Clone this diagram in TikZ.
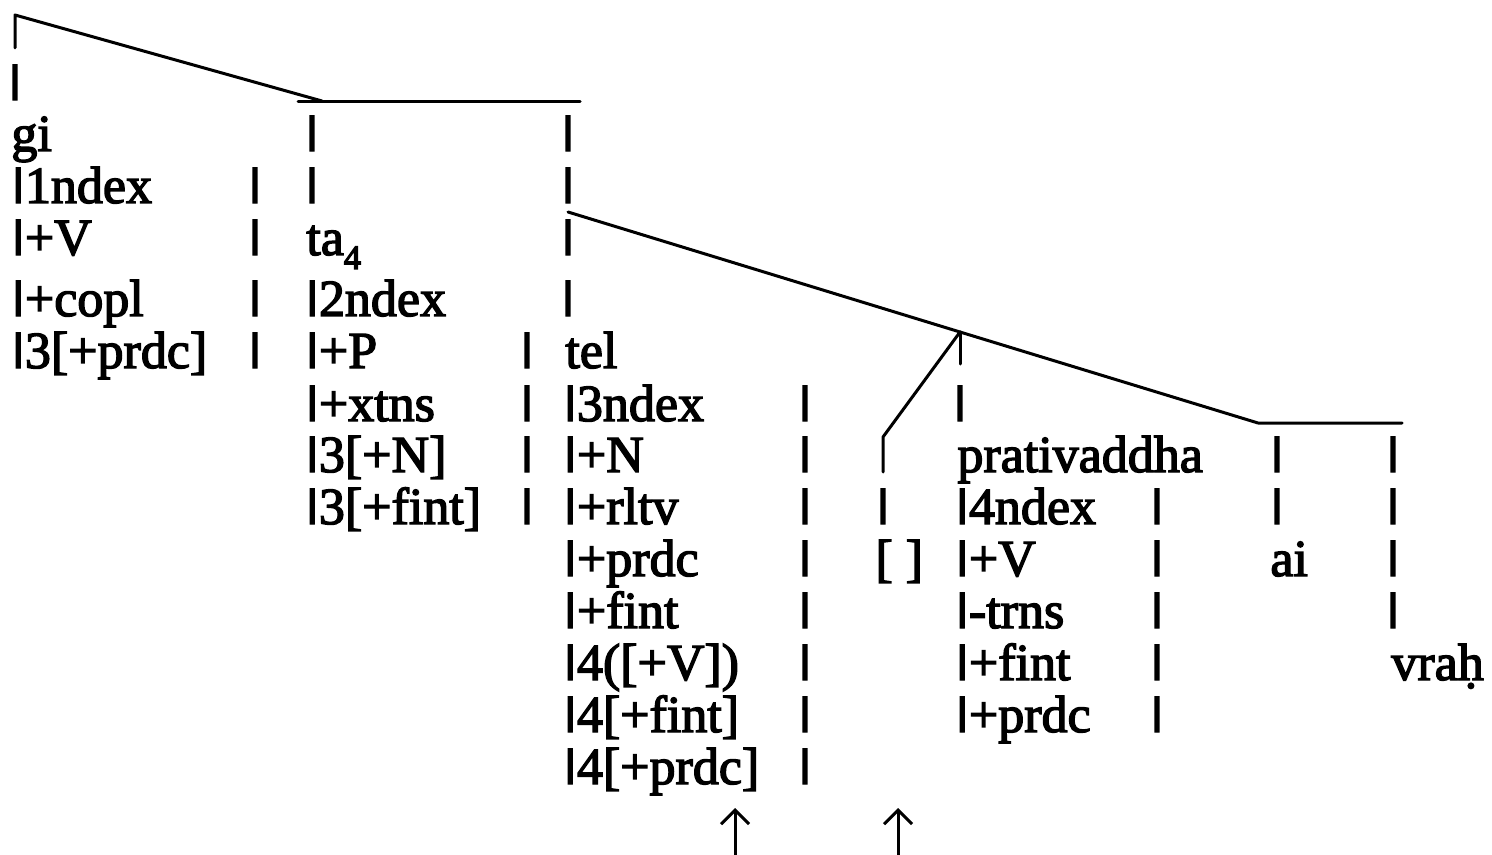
\documentclass[tikz,border=0pt]{standalone}
\usepackage{fontspec}
\setmainfont{Liberation Serif}
\usepackage{graphicx}
\usetikzlibrary{arrows.meta}
% a feature bar, sitting on the baseline
\newcommand{\vb}{\raisebox{.16em}{\scalebox{1.3}[.75]{|}}}
% slightly heavier letters, as in the printed tree
\newcommand{\heavy}{\special{pdf:literal direct 2 Tr 0.7 w}}

\begin{document}
\begin{tikzpicture}[x=0.5pt,y=-0.5pt,>=Stealth,
    lbl/.style={anchor=base west,inner sep=0pt,font=\fontsize{26}{26}\selectfont\heavy},
    bar/.style={anchor=base,inner sep=0pt,font=\fontsize{26}{26}\selectfont\heavy},
    branch/.style={line width=1.5pt,line cap=round,line join=round}]
  \useasboundingbox (0,0) rectangle (1492,855);
  % Upper branch: gi over ta4
  \coordinate (top) at (15,15);
  \coordinate (topfoot) at (15,48);
  \coordinate (topend) at (322,101);
  \coordinate (ha) at (298,102);
  \coordinate (hb) at (580,102);
  \draw[branch] (topfoot) -- (top) -- (topend);
  \draw[branch] (ha) -- (hb);
  \node[bar] (gibar) at (15,100) {\vb};
  \node[lbl] (gi) at (11,151) {gi};
  \node[lbl] (gi1) at (11,203) {\vb 1ndex};
  \node[lbl] (gi2) at (11,255) {\vb +V};
  \node[lbl] (gi3) at (11,316) {\vb +copl};
  \node[lbl] (gi4) at (11,368) {\vb 3[+prdc]};
  \node[bar] (gib1) at (255,203) {\vb};
  \node[bar] (gib2) at (255,255) {\vb};
  \node[bar] (gib3) at (255,316) {\vb};
  \node[bar] (gib4) at (255,368) {\vb};
  % ta4
  \node[bar] (tab0) at (312,151) {\vb};
  \node[bar] (tab1) at (312,203) {\vb};
  \node[lbl] (ta) at (306,255) {ta\raisebox{-7pt}{\fontsize{17}{17}\selectfont 4}};
  \node[lbl] (ta3) at (305,316) {\vb 2ndex};
  \node[lbl] (ta4) at (305,368) {\vb +P};
  \node[lbl] (ta5) at (305,421) {\vb +xtns};
  \node[lbl] (ta6) at (305,472) {\vb 3[+N]};
  \node[lbl] (ta7) at (305,524) {\vb 3[+fint]};
  \node[bar] (tab4) at (527,368) {\vb};
  \node[bar] (tab5) at (527,421) {\vb};
  \node[bar] (tab6) at (527,472) {\vb};
  \node[bar] (tab7) at (527,524) {\vb};
  % tel
  \node[bar] (telb0) at (568,151) {\vb};
  \node[bar] (telb1) at (568,203) {\vb};
  \node[bar] (telb2) at (568,255) {\vb};
  \node[bar] (telb3) at (568,316) {\vb};
  \node[lbl] (tel) at (565,368) {tel};
  \node[lbl] (tel5) at (563,421) {\vb 3ndex};
  \node[lbl] (tel6) at (563,472) {\vb +N};
  \node[lbl] (tel7) at (563,524) {\vb +rltv};
  \node[lbl] (tel8) at (563,576) {\vb +prdc};
  \node[lbl] (tel9) at (563,628) {\vb +fint};
  \node[lbl] (tel10) at (563,680) {\vb 4([+V])};
  \node[lbl] (tel11) at (563,732) {\vb 4[+fint]};
  \node[lbl] (tel12) at (563,784) {\vb 4[+prdc]};
  \node[bar] (telb5) at (805,421) {\vb};
  \node[bar] (telb6) at (805,472) {\vb};
  \node[bar] (telb7) at (805,524) {\vb};
  \node[bar] (telb8) at (805,576) {\vb};
  \node[bar] (telb9) at (805,628) {\vb};
  \node[bar] (telb10) at (805,680) {\vb};
  \node[bar] (telb11) at (805,732) {\vb};
  \node[bar] (telb12) at (805,784) {\vb};
  % Lower branch: tel over the relative clause
  \coordinate (da) at (568,212);
  \coordinate (split) at (960,332);
  \coordinate (db) at (1258,423);
  \coordinate (hc) at (1402,423);
  \coordinate (gapbend) at (883,437);
  \coordinate (gapfoot) at (883,472);
  \coordinate (splitfoot) at (960,364);
  \draw[branch] (da) -- (split) -- (db) -- (hc);
  \draw[branch] (split) -- (gapbend) -- (gapfoot);
  \draw[branch] (split) -- (splitfoot);
  % empty slot
  \node[bar] (gapb7) at (883,524) {\vb};
  \node[lbl] (gap) at (875,576) {[ ]};
  % prativaddha
  \node[bar] (prb5) at (960,421) {\vb};
  \node[lbl] (pr) at (957,472) {prativaddha};
  \node[lbl] (pr7) at (955,524) {\vb 4ndex};
  \node[lbl] (pr8) at (955,576) {\vb +V};
  \node[lbl] (pr9) at (955,628) {\vb -trns};
  \node[lbl] (pr10) at (955,680) {\vb +fint};
  \node[lbl] (pr11) at (955,732) {\vb +prdc};
  \node[bar] (prb7) at (1157,524) {\vb};
  \node[bar] (prb8) at (1157,576) {\vb};
  \node[bar] (prb9) at (1157,628) {\vb};
  \node[bar] (prb10) at (1157,680) {\vb};
  \node[bar] (prb11) at (1157,732) {\vb};
  % ai
  \node[bar] (aib6) at (1277,472) {\vb};
  \node[bar] (aib7) at (1277,524) {\vb};
  \node[lbl] (ai) at (1270,576) {ai};
  % vrah
  \node[bar] (vrb6) at (1393,472) {\vb};
  \node[bar] (vrb7) at (1393,524) {\vb};
  \node[bar] (vrb8) at (1393,576) {\vb};
  \node[bar] (vrb9) at (1393,628) {\vb};
  \node[lbl] (vr) at (1391,680) {vraḥ};
  % pointers
  \coordinate (pa) at (735,857);
  \coordinate (pa') at (735,808);
  \coordinate (pb) at (898,857);
  \coordinate (pb') at (898,808);
  \draw[line width=1.5pt,-{Straight Barb[length=7pt,width=14pt]}] (pa) -- (pa');
  \draw[line width=1.5pt,-{Straight Barb[length=7pt,width=14pt]}] (pb) -- (pb');
\end{tikzpicture}
\end{document}
